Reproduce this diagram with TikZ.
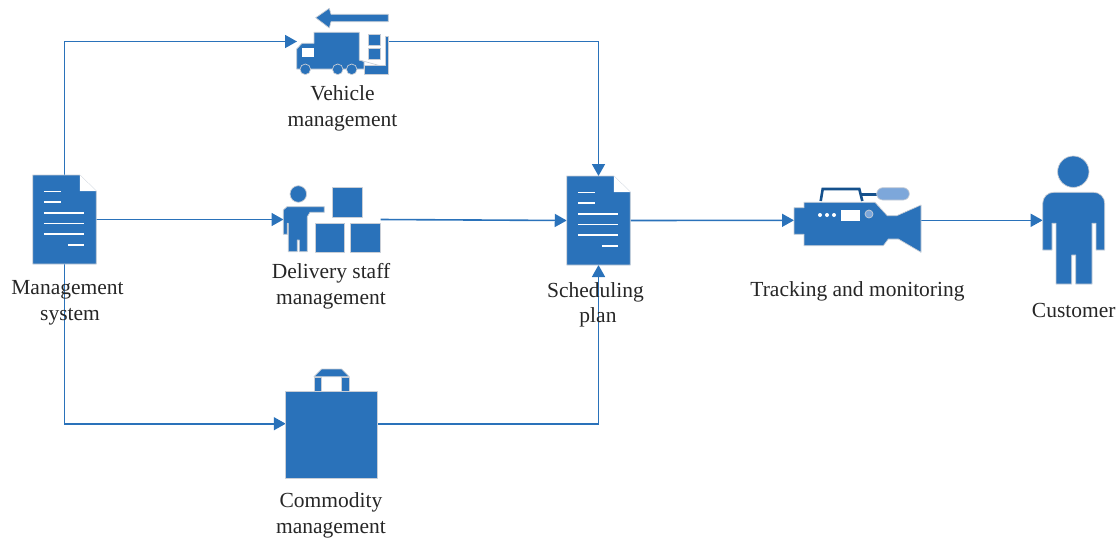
\documentclass[tikz,border=0pt]{standalone}
\usepackage{fontspec}
\setmainfont{Liberation Serif}
\usepackage{xcolor}
\usetikzlibrary{positioning, arrows.meta}
\definecolor{iconblue}{HTML}{2A72BA}
\definecolor{iconedge}{HTML}{C9CED6}
\definecolor{handleblue}{HTML}{14508C}
\definecolor{micblue}{HTML}{7DA7DA}

\begin{document}
\begin{tikzpicture}[x=1pt, y=-1pt,
    iconbox/.style={rectangle, inner sep=0pt, outer sep=0pt},
    caption/.style={align=center, inner sep=0pt, font=\fontsize{21.5}{25.5}\selectfont, text=black!85},
    arrow/.style={-{Triangle[length=12pt, width=13pt]}, draw=iconblue, line width=1.6pt},
    solid/.style={fill=iconblue, draw=iconedge, line width=0.7pt, line join=round},
    cutout/.style={fill=white, draw=none}
]
\useasboundingbox (0,0) rectangle (1119,539);

% icon places
\node[iconbox, minimum width=63.5pt, minimum height=89pt] (mgmt) at (64.5,219.5) {};
\node[iconbox, minimum width=92pt, minimum height=67pt] (vehicle) at (343,41.5) {};
\node[iconbox, minimum width=97pt, minimum height=65pt] (staff) at (332,219.5) {};
\node[iconbox, minimum width=91.5pt, minimum height=109.5pt] (bag) at (331.5,423.7) {};
\node[iconbox, minimum width=63.5pt, minimum height=89pt] (plan) at (598.5,220.5) {};
\node[iconbox, minimum width=127pt, minimum height=65pt] (camera) at (857.5,220.3) {};
\node[iconbox, minimum width=62pt, minimum height=128pt] (customer) at (1073.7,220.3) {};

% connectors
\draw[arrow] (mgmt.north) |- (vehicle.west);
\draw[arrow] (mgmt.east) -- (staff.west);
\draw[arrow] (mgmt.south) |- (bag.west);
\draw[arrow] (vehicle.east) -| (plan.north);
\draw[arrow] (staff.east) -- (plan.west);
\draw[arrow] (bag.east) -| (plan.south);
\draw[arrow] (plan.east) -- (camera.west);
\draw[arrow] (camera.east) -- (customer.west);

% documents
\foreach \docname in {mgmt, plan} {
    \begin{scope}[shift={(\docname.north west)}]
        \draw[solid] (0,0) -- (47,0) -- (63.5,16) -- (63.5,89) -- (0,89) -- cycle;
        \fill[white] (47,0) -- (63.5,16) -- (47,16) -- cycle;
        \foreach \liney/\linea/\lineb in {16.3/11/28, 27/11/28, 37.7/11/51.5, 48.3/11/51.5, 59/11/51.5, 69.7/35/51.5}
            \draw[white, line width=1.6pt] (\linea,\liney) -- (\lineb,\liney);
    \end{scope}
}

% truck
\draw[solid] (315.7,17.7) -- (329.3,8.3) -- (331,14.3) -- (388.3,14.3) -- (388.3,21.7) -- (331,21.7) -- (329.3,28) -- cycle;
\draw[solid] (314,32.3) -- (359.3,32.3) -- (359.3,60) -- (364,61.5) -- (364,69) -- (296.7,69) -- (296.7,49) -- (302,43.3) -- (314,43.3) -- cycle;
\fill[cutout] (301.7,47.7) rectangle (313.7,57.3);
\draw[solid] (305.3,69.3) circle (5.3);
\draw[solid] (337.7,69.3) circle (5.3);
\draw[solid] (351.7,69.3) circle (5.3);
\draw[solid] (368.7,34.3) rectangle (380.7,45);
\draw[solid] (368.7,48.3) rectangle (380.7,59.3);
\draw[iconedge, line width=0.7pt] (359.3,60) -- (380,65.7);
\draw[solid] (385.7,36.7) -- (388.7,36.7) -- (388.7,74) -- (364.3,74) -- (364.3,65.7) -- (385.7,65.7) -- cycle;

% person and boxes
\draw[solid] (298.3,194) circle (8.3);
\draw[solid] (287,206.7) -- (324.3,206.7) -- (324.3,212.3) -- (310,212.3) -- (307.3,216.7) -- (307.3,251.7) -- (299.3,251.7) -- (299.3,240) -- (297.3,240) -- (297.3,251.7) -- (288.3,251.7) -- (288.3,223.3) -- (287.3,223.3) -- (287.3,234.3) -- (283.3,234.3) -- (283.3,210) -- cycle;
\draw[solid] (332.7,187.7) rectangle (362.7,217);
\draw[solid] (315,223.3) rectangle (344.7,252.3);
\draw[solid] (350.7,223.3) rectangle (380.3,252.3);

% bag
\draw[solid] (285.7,391.7) rectangle (377.3,478.3);
\draw[solid] (314,376.7) -- (321.7,369) -- (341.7,369) -- (349.3,376.7) -- cycle;
\draw[solid] (314,377.7) rectangle (321.3,391.7);
\draw[solid] (341.7,377.7) rectangle (349.3,391.7);

% camera
\draw[handleblue, line width=2.6pt] (820.7,201) -- (822.7,189) -- (859.3,189) -- (862.3,201);
\draw[handleblue, line width=2.6pt] (861,194.3) -- (878,194.3);
\draw[fill=micblue, draw=iconedge, line width=0.7pt, rounded corners=6pt] (876.7,187.7) rectangle (909.3,200);
\draw[solid] (794,207.7) -- (804,207.7) -- (804,202.3) -- (875,202.3) -- (887.3,215.7) -- (896.7,215.7) -- (921,205) -- (921,252.3) -- (898.3,239) -- (888.3,239) -- (883.3,245.7) -- (804,245.7) -- (804,234.3) -- (794,234.3) -- cycle;
\foreach \dotx in {820, 827, 834}
    \fill[white] (\dotx,215) circle (2);
\fill[cutout] (841,210) rectangle (860.3,220.7);
\draw[fill=micblue, draw=iconedge, line width=0.7pt] (869,214) circle (4);

% customer
\draw[solid] (1073.3,171.7) circle (15.7);
\draw[solid, rounded corners=11pt] (1073.7,192.3) -- (1104.7,192.3) -- (1104.7,225) [sharp corners] -- (1104.7,250) -- (1096,250) -- (1096,223.3) -- (1092,223.3) -- (1092,284) -- (1075.7,284) -- (1075.7,255) -- (1071.7,255) -- (1071.7,284) -- (1056,284) -- (1056,223.3) -- (1052,223.3) -- (1052,250) -- (1042.7,250) -- (1042.7,225) [rounded corners=11pt] -- (1042.7,192.3) -- cycle;

% captions
\node[caption, below=16.5pt of mgmt, xshift=3pt] (mgmt_text) {Management\\\hspace*{5pt}system};
\node[caption, below=10.5pt of vehicle, xshift=-0.5pt] (vehicle_text) {Vehicle\\management};
\node[caption, below=11.5pt of staff, xshift=-1pt] (staff_text) {Delivery staff\\management};
\node[caption, below=14pt of bag, xshift=-0.5pt] (bag_text) {Commodity\\management};
\node[caption, below=17pt of plan, xshift=-3pt] (plan_text) {Scheduling\\\hspace*{5pt}plan};
\node[caption, below=28.5pt of camera] (camera_text) {Tracking and monitoring};
\node[caption, below=18.5pt of customer] (customer_text) {Customer};
\end{tikzpicture}
\end{document}
